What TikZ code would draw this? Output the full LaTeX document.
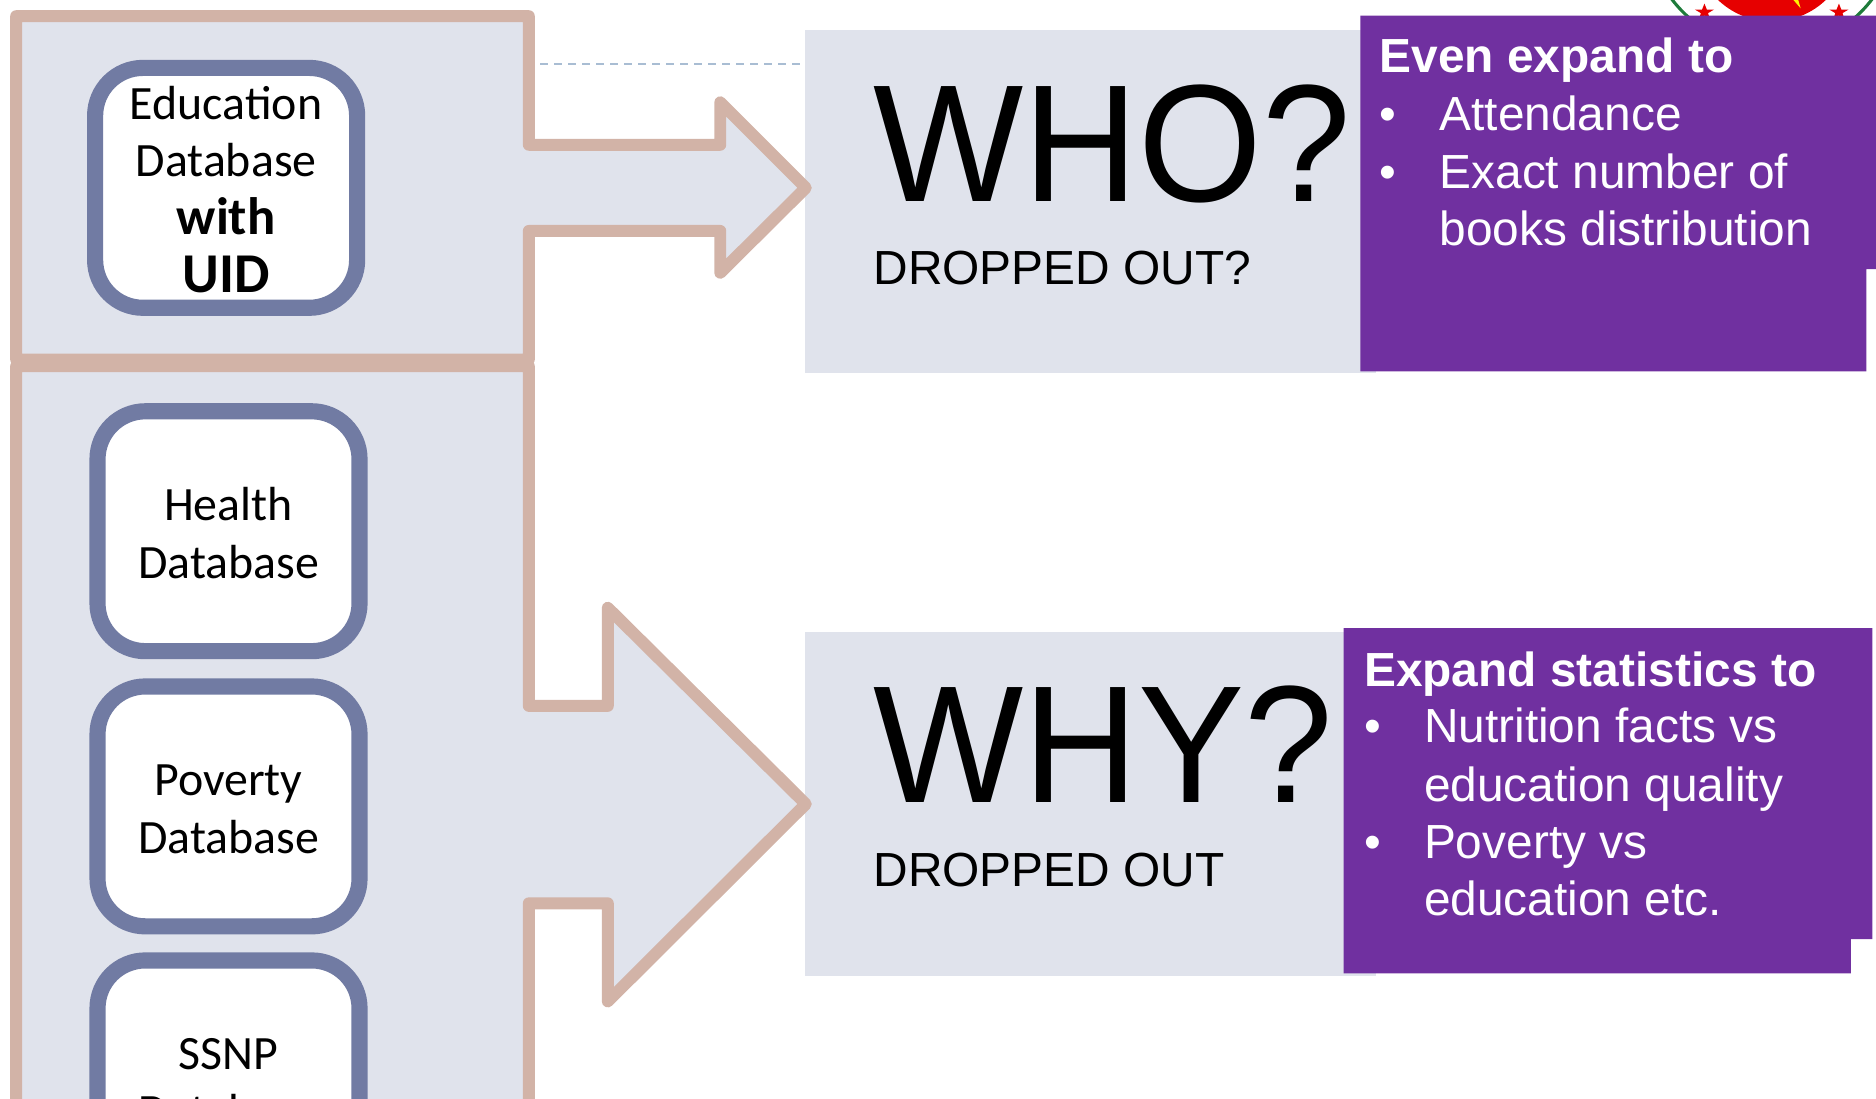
\documentclass[tikz,border=0pt]{standalone}
\usepackage{fontspec}
\setmainfont{Liberation Sans}
\newfontfamily\gill{Carlito}
\definecolor{paneblue}{HTML}{E0E3EC}
\definecolor{tan}{HTML}{D2B3A7}
\definecolor{slateb}{HTML}{717BA3}
\definecolor{purp}{HTML}{7030A0}
\definecolor{dashb}{HTML}{A9BDD3}
\definecolor{logog}{HTML}{1E7B3A}
\definecolor{logor}{HTML}{E60000}
\newcommand{\dbstrut}{\rule{0pt}{30.5pt}}
\newcommand{\bigbold}[2]{{\fontsize{#1}{48.4}\selectfont\bfseries #2}}
\newcommand{\tallword}[1]{\scalebox{1}[1.05]{#1}}
\tikzset{
 x=1pt,y=-1pt,
 callout/.style={draw=tan,fill=paneblue,line width=10pt,line join=round},
 dbbox/.style={draw=slateb,fill=white,line width=13.5pt,rounded corners=40pt,minimum width=219pt,minimum height=200.5pt,inner sep=0pt,align=center,font=\gill\fontsize{40}{48.4}\selectfont},
 pane/.style={fill=paneblue,anchor=north west,inner sep=0pt},
 purplebox/.style={fill=purp},
 big/.style={anchor=base west,inner sep=0pt,font=\fontsize{133}{133}\selectfont},
 sub/.style={anchor=base west,inner sep=0pt,font=\fontsize{40}{48}\selectfont},
 ptxt/.style={anchor=base west,inner sep=0pt,text=white,font=\fontsize{40}{48}\selectfont},
}
\begin{document}
\begin{tikzpicture}
\useasboundingbox (0,0) rectangle (1568,918.56);
\clip (0,0) rectangle (1568,918.56);
% logo
\draw[logog,line width=2.6pt] (1481,-64.1) circle (105);
\fill[logor] (1481,-47.3) circle (65.3);
\fill[yellow] (1499,0) -- (1503,0) -- (1505,7) -- cycle;
\foreach \sx in {1424.6,1537}{
 \fill[logor] (\sx,3) -- (\sx+2,8) -- (\sx+8,8) -- (\sx+3,11) -- (\sx+5,17) -- (\sx,13) -- (\sx-5,17) -- (\sx-3,11) -- (\sx-8,8) -- (\sx-2,8) -- cycle;
}
% grey panes
\node[pane,minimum width=477pt,minimum height=286.5pt] (whopane) at (673,25) {};
\node[pane,minimum width=477pt,minimum height=287.5pt] (whypane) at (673,528) {};
% dashed
\coordinate (dashL) at (451.4,53.5);
\coordinate (dashR) at (668.7,53.5);
\draw[dashb,line width=2pt,dash pattern=on 6.7pt off 5pt] (dashL) -- (dashR);
% callouts
\draw[callout] (13.5,13.5) -- (442,13.5) -- (442,121) -- (602,121) -- (602,85.5) -- (673.5,157) -- (602,228) -- (602,193) -- (442,193) -- (442,300.5) -- (13.5,300.5) -- cycle;
\draw[callout] (13.5,306) -- (442,306) -- (442,590) -- (508,590) -- (508,508) -- (673.5,672) -- (508,837) -- (508,755) -- (442,755) -- (442,1100) -- (13.5,1100) -- cycle;
% database boxes
\node[dbbox] (edu) at (189,157) {\dbstrut Education\\Database\\\bigbold{44}{with}\\\bigbold{47}{UID}};
\node[dbbox] (health) at (191,444) {\dbstrut Health\\Database};
\node[dbbox] (poverty) at (191,674) {\dbstrut Poverty\\Database};
\node[dbbox] (ssnp) at (191,903) {\dbstrut SSNP\\Database};
% purple boxes
\fill[purplebox] (1137,13) -- (1568,13) -- (1568,225) -- (1560,225) -- (1560,310.5) -- (1137,310.5) -- cycle;
\fill[purplebox] (1123,525) -- (1565,525) -- (1565,785) -- (1547,785) -- (1547,813.5) -- (1123,813.5) -- cycle;
% texts
\node[big] (who) at (730,168.6) {\tallword{WHO?}};
\node[sub] (whos) at (730,238) {DROPPED OUT?};
\node[big] (why) at (730,670.6) {\tallword{WHY?}};
\node[sub] (whys) at (730,741) {DROPPED OUT};
\node[ptxt] (t1) at (1153,61) {\textbf{Even expand to}};
\node[ptxt] (b1) at (1153,109) {•};
\node[ptxt] (t2) at (1203,109) {Attendance};
\node[ptxt] (b2) at (1153,157.5) {•};
\node[ptxt] (t3) at (1203,157.5) {Exact number of};
\node[ptxt] (t4) at (1203,205.5) {books distribution};
\node[ptxt] (u1) at (1140,573.4) {\textbf{Expand statistics to}};
\node[ptxt] (c1) at (1140,621) {•};
\node[ptxt] (u2) at (1190,621) {Nutrition facts vs};
\node[ptxt] (u3) at (1190,669.5) {education quality};
\node[ptxt] (c2) at (1140,717.6) {•};
\node[ptxt] (u4) at (1190,717.6) {Poverty vs};
\node[ptxt] (u5) at (1190,765.5) {education etc.};
\end{tikzpicture}
\end{document}
